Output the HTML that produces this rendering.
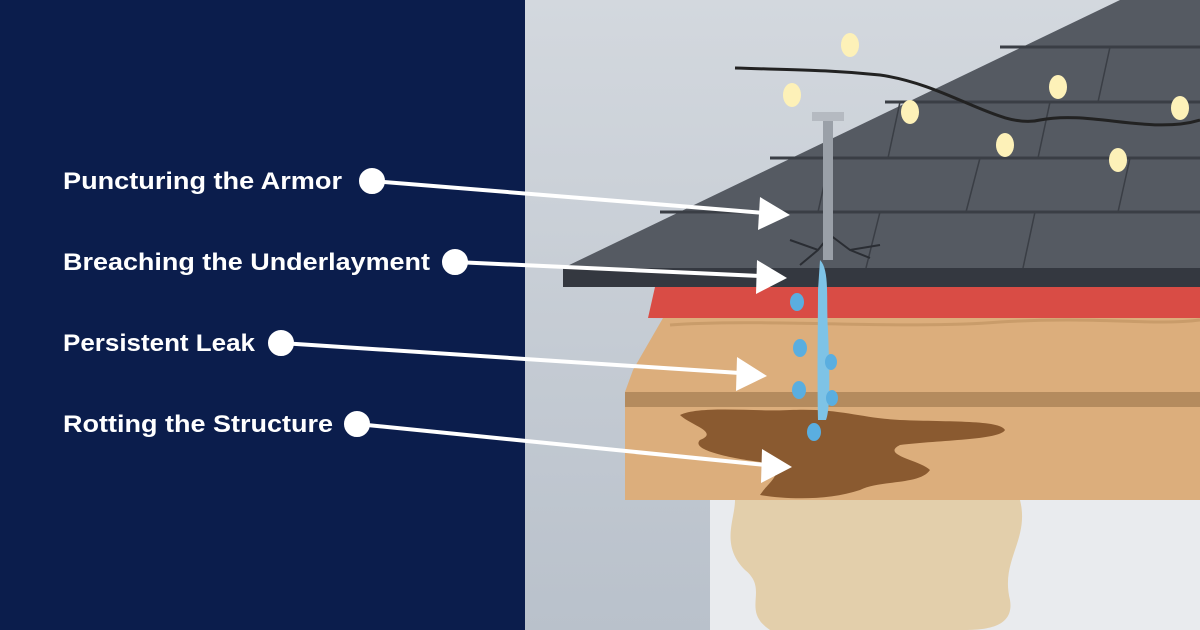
<!DOCTYPE html>
<html><head><meta charset="utf-8"><style>
html,body{margin:0;padding:0;width:1200px;height:630px;overflow:hidden}
svg{display:block}
text{font-family:"Liberation Sans",sans-serif;font-weight:bold;fill:#fff;font-size:24px}
</style></head><body>
<svg width="1200" height="630" viewBox="0 0 1200 630" xmlns="http://www.w3.org/2000/svg">
<defs>
<linearGradient id="bg2" x1="0" y1="0" x2="0" y2="1">
<stop offset="0" stop-color="#d3d8de"/><stop offset="1" stop-color="#b9c1cb"/></linearGradient>
</defs>
<rect x="525" y="0" width="675" height="630" fill="url(#bg2)"/>
<!-- wall -->
<rect x="710" y="500" width="490" height="130" fill="#e9ebee"/>
<path d="M735 500 L1020 500 C1030 540 1000 560 1010 600 C1015 630 980 630 960 630 L770 630 C740 610 770 590 745 570 C720 545 735 520 735 500Z" fill="#e3cfab"/>
<!-- roof shingles -->
<polygon points="563,268 1120,0 1200,0 1200,268" fill="#555a62"/>
<g stroke="#3a3e45" stroke-width="3">
<line x1="660" y1="212" x2="1200" y2="212"/>
<line x1="770" y1="158" x2="1200" y2="158"/>
<line x1="885" y1="102" x2="1200" y2="102"/>
<line x1="1000" y1="47" x2="1200" y2="47"/>
</g>
<g stroke="#3a3e45" stroke-width="1.5">
<line x1="880" y1="212" x2="866" y2="268"/><line x1="1035" y1="212" x2="1023" y2="268"/>
<line x1="830" y1="158" x2="818" y2="212"/><line x1="980" y1="158" x2="966" y2="212"/><line x1="1130" y1="158" x2="1118" y2="212"/>
<line x1="900" y1="102" x2="888" y2="158"/><line x1="1050" y1="102" x2="1038" y2="158"/>
<line x1="1110" y1="47" x2="1098" y2="102"/>
</g>
<path d="M790 240 L818 250 L830 235 L850 250 L880 245 M818 250 L800 265 M850 250 L870 258" stroke="#2a2d33" stroke-width="2" fill="none"/>
<rect x="563" y="268" width="637" height="19" fill="#343840"/>
<!-- red -->
<path d="M655 287 L1200 287 L1200 320 L648 318 Z" fill="#d94c45"/>
<!-- wood -->
<path d="M663 318 L1200 318 L1200 392 L625 392 L633 370 Z" fill="#dcae7c"/>
<path d="M670 325 C760 318 900 330 1000 322 C1100 316 1150 326 1200 320" stroke="#c99c6a" stroke-width="3" fill="none"/>
<rect x="625" y="392" width="575" height="15" fill="#b48b5e"/>
<rect x="625" y="407" width="575" height="93" fill="#dcae7c"/>
<!-- rot -->
<path d="M680 415 C700 405 760 412 790 410 C840 408 860 418 900 420 C950 422 1000 420 1005 430 C1000 440 940 440 900 445 C880 455 920 460 930 470 C920 485 880 480 860 490 C830 500 790 500 760 495 C770 480 790 470 760 462 C730 458 690 450 700 440 C720 432 690 425 680 415Z" fill="#8a5a30"/>
<!-- nail -->
<rect x="823" y="120" width="10" height="140" fill="#9aa0a8"/>
<rect x="812" y="112" width="32" height="9" fill="#b5bac1"/>
<!-- water -->
<path d="M820 260 C830 270 826 300 828 330 C830 380 830 410 826 420 L818 420 C817 380 818 320 818 290Z" fill="#7ec3e6"/>
<g fill="#5aaee0">
<ellipse cx="797" cy="302" rx="7" ry="9"/><ellipse cx="800" cy="348" rx="7" ry="9"/>
<ellipse cx="799" cy="390" rx="7" ry="9"/><ellipse cx="831" cy="362" rx="6" ry="8"/>
<ellipse cx="832" cy="398" rx="6" ry="8"/><ellipse cx="814" cy="432" rx="7" ry="9"/>
</g>
<!-- lights -->
<path d="M735 68 C800 70 830 70 880 75 C950 85 1000 130 1040 120 C1090 110 1150 135 1200 120" stroke="#222" stroke-width="3" fill="none"/>
<g fill="#fdf1b8">
<ellipse cx="792" cy="95" rx="9" ry="12"/><ellipse cx="850" cy="45" rx="9" ry="12"/>
<ellipse cx="910" cy="112" rx="9" ry="12"/><ellipse cx="1005" cy="145" rx="9" ry="12"/>
<ellipse cx="1058" cy="87" rx="9" ry="12"/><ellipse cx="1118" cy="160" rx="9" ry="12"/>
<ellipse cx="1180" cy="108" rx="9" ry="12"/>
</g>
<!-- left panel -->
<rect x="0" y="0" width="525" height="630" fill="#0b1d4c"/>
<text x="63" y="189" textLength="279" lengthAdjust="spacingAndGlyphs">Puncturing the Armor</text>
<text x="63" y="270" textLength="367" lengthAdjust="spacingAndGlyphs">Breaching the Underlayment</text>
<text x="63" y="351" textLength="192" lengthAdjust="spacingAndGlyphs">Persistent Leak</text>
<text x="63" y="432" textLength="270" lengthAdjust="spacingAndGlyphs">Rotting the Structure</text>
<g fill="#fff" stroke="#fff" stroke-width="4">
<circle cx="372" cy="181" r="11"/><line x1="372" y1="181" x2="765" y2="213"/>
<polygon points="760,197 790,215 758,230" stroke="none"/>
<circle cx="455" cy="262" r="11"/><line x1="455" y1="262" x2="760" y2="276"/>
<polygon points="757,260 787,278 756,294" stroke="none"/>
<circle cx="281" cy="343" r="11"/><line x1="281" y1="343" x2="740" y2="373"/>
<polygon points="737,357 767,376 736,391" stroke="none"/>
<circle cx="357" cy="424" r="11"/><line x1="357" y1="424" x2="765" y2="465"/>
<polygon points="762,449 792,467 761,483" stroke="none"/>
</g>
</svg>
</body></html>
